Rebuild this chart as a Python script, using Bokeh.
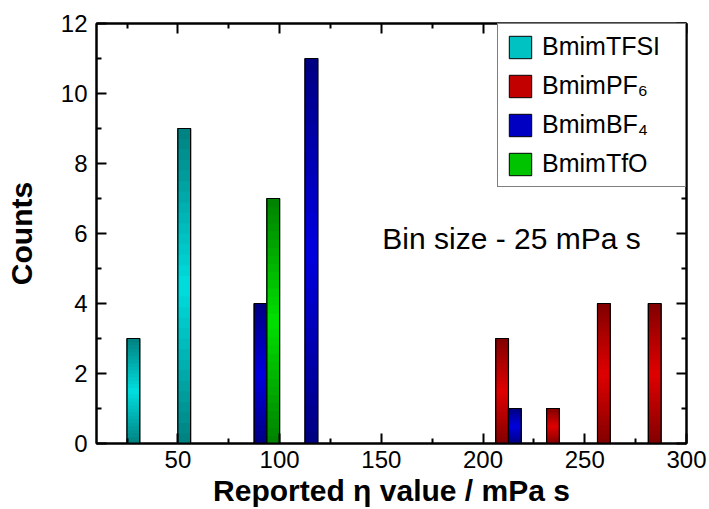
import numpy as np
from bokeh.plotting import figure
from bokeh.models import (Range1d, FixedTicker, LinearAxis, Legend, LegendItem,
                          Label, CustomJSTickFormatter, ColumnDataSource)
from bokeh.embed import file_html
from bokeh.resources import INLINE

# ---- data (histogram bins: left edge of each bar, counts) ----
bar_width = 6.25
tfsi_left = [25.0, 50.0]
tfsi_counts = [3, 9]
pf6_left = [206.25, 231.25, 256.25, 281.25]
pf6_counts = [3, 1, 4, 4]
bf4_left = [87.5, 112.5, 212.5]
bf4_counts = [4, 11, 1]
tfo_left = [93.75]
tfo_counts = [7]

x_ticks = [50, 100, 150, 200, 250, 300]
x_minor = [25, 75, 125, 175, 225, 275]
y_ticks = [0, 2, 4, 6, 8, 10, 12]
y_minor = [1, 3, 5, 7, 9, 11]

series = [
    ("BmimTFSI", tfsi_left, tfsi_counts, (0, 128, 128), (0, 222, 222)),
    ("BmimPF\u2086", pf6_left, pf6_counts, (128, 0, 0), (224, 0, 0)),
    ("BmimBF\u2084", bf4_left, bf4_counts, (0, 0, 128), (0, 0, 224)),
    ("BmimTfO", tfo_left, tfo_counts, (0, 128, 0), (0, 224, 0)),
]

FONT = "Liberation Sans"

p = figure(width=709, height=509, output_backend="svg", toolbar_location=None,
           x_range=Range1d(10, 300), y_range=Range1d(0, 12),
           min_border_left=96, min_border_right=23, min_border_top=23,
           min_border_bottom=66)
p.grid.visible = False
p.outline_line_color = "black"
p.outline_line_width = 2
p.background_fill_color = "white"
p.border_fill_color = "white"


def hexcol(c):
    return "#%02x%02x%02x" % tuple(int(round(v)) for v in c)


def shade(dark, bright, t):
    return hexcol([b + (d - b) * t for d, b in zip(dark, bright)])


N = 30
items = []
for name, lefts, counts, dark, bright in series:
    lefts = np.array(lefts, dtype=float)
    counts = np.array(counts, dtype=float)
    rights = lefts + bar_width
    # base renderer (used for legend)
    base = p.quad(left=lefts, right=rights, bottom=0, top=counts,
                  fill_color=shade(dark, bright, 0.3), line_color="black", line_width=1)
    # gradient strips
    L, R, B, T, C = [], [], [], [], []
    for l, r, v in zip(lefts, rights, counts):
        for k in range(N):
            t = abs(2 * (k + 0.5) / N - 1)
            L.append(l); R.append(r)
            B.append(v * k / N); T.append(v * (k + 1) / N)
            C.append(shade(dark, bright, t))
    src = ColumnDataSource(dict(left=L, right=R, bottom=B, top=T, color=C))
    p.quad(left="left", right="right", bottom="bottom", top="top", source=src,
           fill_color="color", line_color="color", line_width=0.5)
    p.quad(left=lefts, right=rights, bottom=0, top=counts,
           fill_color=None, line_color="black", line_width=1.2)
    items.append(LegendItem(label=name, renderers=[base]))

legend = Legend(items=items, location="top_right", margin=0, padding=8, spacing=10,
                glyph_width=28, glyph_height=28, label_standoff=8, label_width=135,
                label_height=28, label_text_font=FONT, label_text_font_size="25px",
                label_text_baseline="middle", label_text_color="black",
                border_line_color="black", border_line_width=1.5,
                background_fill_color="white", background_fill_alpha=1.0)
p.add_layout(legend)


def style_axis(ax, major, minor):
    ax.ticker = FixedTicker(ticks=major, minor_ticks=minor)
    ax.axis_line_width = 2
    ax.axis_line_color = "black"
    ax.major_tick_line_width = 2
    ax.minor_tick_line_width = 2
    ax.major_tick_in = 10
    ax.major_tick_out = 0
    ax.minor_tick_in = 5
    ax.minor_tick_out = 0
    ax.major_label_text_font = FONT
    ax.major_label_text_font_size = "24px"
    ax.major_label_text_color = "black"


style_axis(p.xaxis[0], x_ticks, x_minor)
style_axis(p.yaxis[0], y_ticks, y_minor)
p.xaxis[0].major_label_standoff = 7
p.yaxis[0].major_label_standoff = 9
p.xaxis[0].axis_label = "Reported \u03b7 value / mPa s"
p.yaxis[0].axis_label = "Counts"
for ax in (p.xaxis[0], p.yaxis[0]):
    ax.axis_label_text_font = FONT
    ax.axis_label_text_font_size = "30px"
    ax.axis_label_text_font_style = "bold"
    ax.axis_label_text_color = "black"
p.xaxis[0].axis_label_standoff = 3
p.yaxis[0].axis_label_standoff = 20

top_ax = LinearAxis(formatter=CustomJSTickFormatter(code="return ''"))
right_ax = LinearAxis(formatter=CustomJSTickFormatter(code="return ''"))
style_axis(top_ax, x_ticks, x_minor)
style_axis(right_ax, y_ticks, y_minor)
p.add_layout(top_ax, "above")
p.add_layout(right_ax, "right")

p.add_layout(Label(x=150.5, y=5.85, text="Bin size - 25 mPa s", text_font=FONT,
                   text_font_size="30px", text_color="black",
                   text_baseline="alphabetic"))

open("out.html", "w").write(file_html(p, INLINE))
